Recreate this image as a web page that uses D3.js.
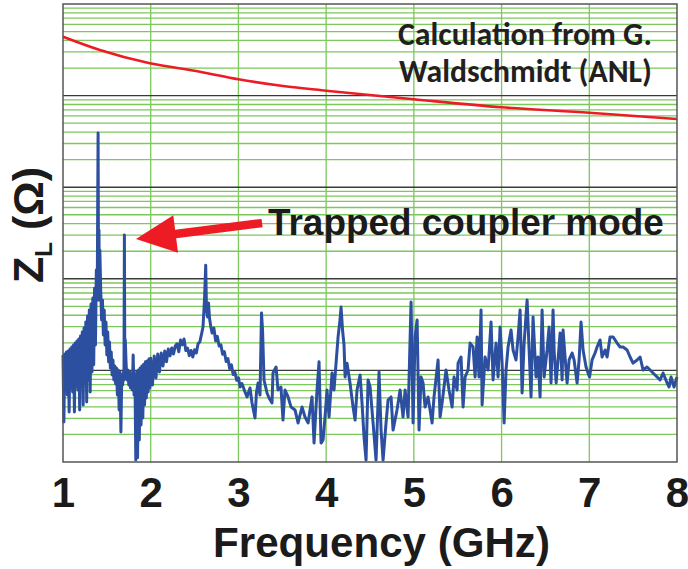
<!DOCTYPE html>
<html><head><meta charset="utf-8">
<script src="https://cdn.jsdelivr.net/npm/d3@7"></script>
<style>html,body{margin:0;padding:0;background:#fff;} svg{display:block;}</style>
</head><body>
<svg id="chart" width="688" height="569"></svg>
<script>
// ---------- data ----------
const xTicks = [1, 2, 3, 4, 5, 6, 7, 8];
const yDomain = [1, 1e5];
const calcNote = ["Calculation from G.", "Waldschmidt (ANL)"];
const modeNote = "Trapped coupler mode";
const xTitle = "Frequency (GHz)";
const arrowFrom = [3.27, 406];
const arrowTo = [1.832, 272];

const redTrace = [[1,43950],[1.42,31480],[1.99,22530],[2.562,18240],[3,15070],[3.508,12730],[4,11310],[5,9120],[6,7450],[7,6500],[8,5550]];

const blueTrace = [
[1.00,14.7],[1.01,2.73],[1.02,15.1],[1.03,6.93],[1.04,15.9],[1.05,5.39],[1.06,16.3],[1.07,3.52],[1.08,17.1],[1.09,6.43],
[1.10,18.0],[1.11,5.81],[1.12,18.9],[1.13,3.52],[1.14,19.9],[1.15,6.76],[1.16,20.9],[1.17,6.11],[1.18,22.0],[1.19,3.70],
[1.20,23.8],[1.21,7.11],[1.22,26.3],[1.23,4.19],[1.24,29.0],[1.25,7.28],[1.26,33.7],[1.27,4.52],[1.28,39.3],[1.29,7.86],
[1.30,45.6],[1.31,5.81],[1.32,53.1],[1.33,9.61],[1.34,61.7],[1.35,11.5],[1.36,79],[1.37,18.9],[1.38,125],[1.39,58.7],
[1.40,3900],[1.405,97],[1.41,341],[1.415,58.7],[1.42,206],[1.43,75.5],[1.44,35.5],[1.45,58.7],[1.46,24.3],[1.47,45.6],
[1.48,18.9],[1.49,33.7],[1.50,14.7],[1.51,26.3],[1.52,12.4],[1.53,20.4],[1.54,10.6],[1.55,15.9],[1.56,8.91],[1.57,13.0],
[1.58,7.86],[1.59,11.2],[1.60,7.11],[1.61,10.6],[1.62,5.39],[1.63,10.1],[1.64,3.70],[1.65,9.61],[1.66,2.13],[1.67,8.91],
[1.68,6.93],[1.69,9.61],[1.695,7.86],[1.70,301],[1.705,8.91],[1.71,21.5],[1.72,11.5],[1.73,7.86],[1.74,10.1],[1.75,6.93],
[1.76,9.61],[1.77,6.43],[1.78,8.91],[1.79,6.11],[1.80,14.7],[1.81,5.39],[1.82,8.91],[1.83,1.05],[1.84,9.61],[1.85,1.11],
[1.86,10.1],[1.87,1.74],[1.88,10.6],[1.89,2.54],[1.90,11.2],[1.91,3.02],[1.92,11.7],[1.93,4.19],[1.94,12.4],[1.95,5.00],
[1.96,12.7],[1.97,5.81],[1.98,13.3],[1.99,6.43],[2.00,13.6],[2.02,6.93],[2.04,14.4],[2.06,8.26],[2.08,15.1],[2.10,9.61],
[2.12,15.5],[2.14,11.2],[2.16,16.3],[2.18,12.4],[2.20,17.1],[2.22,14.4],[2.24,17.6],[2.26,15.1],[2.28,18.5],[2.30,19.5],
[2.32,16.0],[2.34,21.5],[2.36,19.0],[2.38,22.0],[2.40,16.5],[2.42,17.5],[2.44,14.5],[2.46,16.5],[2.48,14.0],[2.50,16.8],
[2.52,15.5],[2.54,19.5],[2.56,20.5],[2.58,25.0],[2.596,29.8],[2.613,58.7],[2.627,141],
[2.636,45.6],[2.648,38.3],[2.659,54.4],[2.670,37.3],[2.685,30.0],[2.70,25.6],[2.72,29.0],[2.74,21.0],[2.76,23.5],[2.78,18.5],
[2.80,19.0],[2.82,15.0],[2.84,16.0],[2.86,12.5],[2.88,13.5],[2.90,10.5],[2.92,11.5],[2.94,9.0],[2.96,9.5],[2.98,7.8],
[3.00,8.3],[3.02,6.6],[3.04,7.2],[3.075,5.81],[3.098,5.13],[3.132,6.43],[3.155,4.41],[3.189,3.02],[3.206,5.81],[3.224,7.28],
[3.246,5.39],[3.263,42.4],[3.275,27.6],[3.292,7.86],[3.326,5.67],[3.349,5.00],[3.383,4.41],[3.394,9.37],[3.429,10.9],[3.451,6.11],
[3.485,6.59],[3.508,2.87],[3.531,6.11],[3.566,5.13],[3.600,3.98],[3.645,3.70],[3.680,2.67],[3.725,3.98],[3.759,3.10],[3.794,2.67],
[3.839,5.13],[3.862,1.61],[3.896,6.11],[3.919,12.4],[3.942,1.61],[3.965,1.74],[3.987,3.10],[4.010,6.11],[4.033,3.10],[4.067,9.37],
[4.090,6.11],[4.113,12.0],[4.136,23.2],[4.158,35.5],[4.170,49.2],[4.187,27.6],[4.204,18.9],[4.216,8.47],[4.238,12.0],[4.272,7.28],
[4.307,3.98],[4.330,2.87],[4.352,6.11],[4.387,8.91],[4.409,4.41],[4.432,1.87],[4.455,1.05],[4.478,7.86],[4.501,6.59],[4.535,2.67],
[4.569,1.05],[4.603,9.61],[4.626,2.23],[4.649,1.05],[4.683,2.67],[4.706,4.75],[4.740,5.13],[4.763,2.23],[4.808,3.70],[4.843,6.11],
[4.877,3.10],[4.900,6.11],[4.934,3.10],[4.968,55.8],[4.991,2.67],[5.014,23.2],[5.037,35.5],[5.059,2.23],[5.082,8.47],[5.105,7.28],
[5.128,3.98],[5.162,5.13],[5.208,2.67],[5.230,5.13],[5.276,13.0],[5.299,3.10],[5.322,4.41],[5.367,10.1],[5.401,6.11],[5.436,3.98],
[5.458,8.47],[5.493,6.11],[5.504,12.0],[5.538,14.0],[5.561,3.98],[5.584,8.47],[5.618,10.1],[5.641,19.9],[5.675,18.0],[5.698,8.47],
[5.721,23.2],[5.743,8.47],[5.766,45.6],[5.778,4.19],[5.812,14.0],[5.846,10.1],[5.880,33.7],[5.903,7.86],[5.937,19.9],[5.960,8.47],
[5.983,29.8],[6.006,12.0],[6.029,2.67],[6.051,10.1],[6.074,18.0],[6.108,27.6],[6.131,16.7],[6.165,13.0],[6.188,23.2],[6.211,45.6],
[6.234,5.67],[6.257,19.9],[6.291,58.7],[6.314,16.7],[6.336,5.13],[6.359,38.3],[6.393,8.47],[6.416,14.0],[6.439,5.13],[6.462,45.6],
[6.485,8.47],[6.519,16.7],[6.542,29.8],[6.564,7.28],[6.587,45.6],[6.599,16.7],[6.622,7.28],[6.644,13.0],[6.667,25.6],[6.690,7.86],
[6.701,27.6],[6.724,14.0],[6.747,7.28],[6.770,13.0],[6.804,15.5],[6.827,13.0],[6.861,7.28],[6.884,13.0],[6.906,33.7],[6.929,16.7],
[6.963,10.9],[6.986,9.37],[7.003,8.47],[7.032,13.0],[7.066,15.5],[7.089,18.0],[7.123,21.5],[7.146,14.0],[7.180,16.7],[7.203,14.0],
[7.237,23.2],[7.271,23.2],[7.317,19.9],[7.351,18.0],[7.385,18.0],[7.431,16.7],[7.465,14.0],[7.499,12.0],[7.545,13.0],[7.579,14.0],
[7.613,10.1],[7.659,10.9],[7.693,10.1],[7.727,9.37],[7.773,8.47],[7.807,7.86],[7.841,9.37],[7.887,7.28],[7.910,6.59],[7.932,8.47],
[7.966,6.59],[8.0,8.47]
];

// ---------- layout ----------
const svg = d3.select("#chart");
const plot = {left: 63, right: 677, top: 4, bottom: 462};
const x = d3.scaleLinear().domain([xTicks[0], xTicks[xTicks.length-1]]).range([plot.left, plot.right]);
const y = d3.scaleLog().domain(yDomain).range([plot.bottom, plot.top]);

const GREEN = "#7cc85a", DARK = "#3a3a3a", BLUE = "#2c4fa0", RED = "#ed1c24", TXT = "#1b1b1b";
const ARIAL = "'Liberation Sans', Arial, Helvetica, sans-serif";

const yt = y.ticks();
const isDecade = v => Math.abs(Math.log10(v) - Math.round(Math.log10(v))) < 1e-9;

const grid = svg.append("g");
grid.selectAll("line.minor").data(yt.filter(v => !isDecade(v))).join("line").attr("class","minor")
  .attr("x1", plot.left).attr("x2", plot.right).attr("y1", d => y(d)).attr("y2", d => y(d))
  .attr("stroke", GREEN).attr("stroke-width", 1.3);
grid.selectAll("line.vert").data(xTicks.slice(1, -1)).join("line").attr("class","vert")
  .attr("x1", d => x(d)).attr("x2", d => x(d)).attr("y1", plot.top).attr("y2", plot.bottom)
  .attr("stroke", GREEN).attr("stroke-width", 1.3);
grid.selectAll("line.dec").data(yt.filter(v => isDecade(v) && v > yDomain[0] && v < yDomain[1])).join("line").attr("class","dec")
  .attr("x1", plot.left).attr("x2", plot.right).attr("y1", d => y(d)).attr("y2", d => y(d))
  .attr("stroke", DARK).attr("stroke-width", 1.4);

// ---------- curves ----------
const line = d3.line().x(d => x(d[0])).y(d => y(d[1]));
svg.append("path").datum(blueTrace).attr("d", line)
  .attr("fill", "none").attr("stroke", BLUE).attr("stroke-width", 3).attr("stroke-linejoin", "round");
svg.append("path").datum(redTrace).attr("d", line.curve(d3.curveMonotoneX))
  .attr("fill", "none").attr("stroke", RED).attr("stroke-width", 2.6);

// frame
svg.append("rect").attr("x", plot.left).attr("y", plot.top)
  .attr("width", plot.right - plot.left).attr("height", plot.bottom - plot.top)
  .attr("fill", "none").attr("stroke", "#555").attr("stroke-width", 1.5);

// ---------- axis ----------
const gx = svg.append("g").attr("transform", `translate(0,${plot.bottom})`)
  .call(d3.axisBottom(x).tickValues(xTicks).tickSize(0).tickPadding(0).tickFormat(d3.format("d")));
gx.select(".domain").remove();
gx.selectAll("text").attr("y", 45).attr("dy", 0)
  .attr("font-family", ARIAL).attr("font-weight", "bold").attr("font-size", 42).attr("fill", TXT);

function fitWidth(sel, target) {
  const w = sel.node().getComputedTextLength();
  const fs = parseFloat(sel.attr("font-size"));
  if (w > 0) sel.attr("font-size", fs * target / w);
}

// x title
const xt = svg.append("text").attr("x", 381.5).attr("y", 557).attr("text-anchor", "middle")
  .attr("font-family", ARIAL).attr("font-weight", "bold").attr("font-size", 41).attr("fill", TXT).text(xTitle);
fitWidth(xt, 337);

// y title
const yl = svg.append("text").attr("transform", "translate(43,283) rotate(-90)")
  .attr("font-family", ARIAL).attr("font-weight", "bold").attr("fill", TXT);
yl.append("tspan").attr("font-size", 43).text("Z");
yl.append("tspan").attr("font-size", 24).attr("dy", 9).text("L");
yl.append("tspan").attr("font-size", 43).attr("dy", -9).text("\u00a0(\u03a9)");

// annotation text
const calcFont = "Carlito, Lato, 'Open Sans', sans-serif";
const c1 = svg.append("text").attr("x", 398).attr("y", 45).attr("font-family", calcFont).attr("font-weight", "bold")
  .attr("font-size", 24).attr("fill", "#231f20").text(calcNote[0]);
fitWidth(c1, 254);
const c2 = svg.append("text").attr("x", 399).attr("y", 82).attr("font-family", calcFont).attr("font-weight", "bold")
  .attr("font-size", 24).attr("fill", "#231f20").text(calcNote[1]);
fitWidth(c2, 253);

const mt = svg.append("text").attr("x", 268).attr("y", 235).attr("font-family", ARIAL).attr("font-weight", "bold")
  .attr("font-size", 36).attr("fill", TXT).text(modeNote);
fitWidth(mt, 396);

// arrow
(function () {
  const tx = x(arrowFrom[0]), ty = y(arrowFrom[1]);
  const hx = x(arrowTo[0]), hy = y(arrowTo[1]);
  const dx = hx - tx, dy = hy - ty, L = Math.hypot(dx, dy);
  const ux = dx / L, uy = dy / L, nx = -uy, ny = ux;
  const sw = 4.2, hl = 40, hw = 19;
  const bx = hx - ux * hl, by = hy - uy * hl;
  const pts = [
    [tx + nx * sw, ty + ny * sw], [bx + nx * sw, by + ny * sw], [bx + nx * hw, by + ny * hw],
    [hx, hy], [bx - nx * hw, by - ny * hw], [bx - nx * sw, by - ny * sw], [tx - nx * sw, ty - ny * sw]
  ];
  svg.append("polygon").attr("points", pts.map(p => p.join(",")).join(" ")).attr("fill", RED);
})();
</script>
</body></html>
